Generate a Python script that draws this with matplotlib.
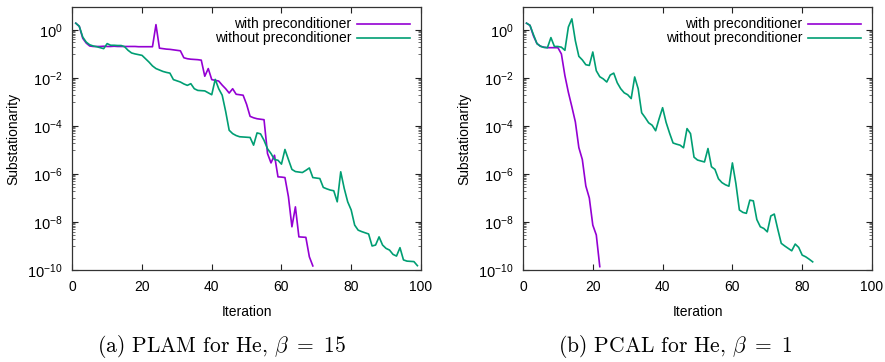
import numpy as np
import matplotlib
matplotlib.use("Agg")
import matplotlib.pyplot as plt
from matplotlib.ticker import FixedLocator, FixedFormatter

plt.rcParams['font.family'] = ['Liberation Sans', 'DejaVu Sans']
plt.rcParams['mathtext.fontset'] = 'custom'
plt.rcParams['mathtext.rm'] = 'Liberation Sans'
plt.rcParams['mathtext.it'] = 'Liberation Sans:italic'

# ---- data (log10 of substationarity) ----
plam_with_log = [0.28, 0.15, -0.35, -0.55, -0.67, -0.69, -0.69, -0.69, -0.68, -0.69,
                 -0.69, -0.68, -0.69, -0.69, -0.69, -0.69, -0.69, -0.69, -0.70, -0.70,
                 -0.70, -0.70, -0.70, 0.22, -0.76, -0.78, -0.80, -0.81, -0.83, -0.85,
                 -0.87, -1.16, -1.20, -1.22, -1.23, -1.24, -1.26, -1.93, -1.61, -2.07,
                 -2.10, -2.13, -2.30, -2.45, -2.63, -2.45, -2.68, -2.70, -2.72, -3.10,
                 -3.60, -3.66, -3.70, -3.72, -3.74, -5.15, -5.54, -5.22, -6.12, -6.13,
                 -6.15, -6.95, -8.20, -7.37, -8.62, -8.63, -8.64, -9.45, -9.83]
plam_without_log = [0.28, 0.15, -0.30, -0.51, -0.62, -0.67, -0.70, -0.74, -0.78, -0.57,
                    -0.64, -0.64, -0.65, -0.65, -0.70, -0.85, -0.96, -1.00, -1.03, -1.06,
                    -1.20, -1.34, -1.50, -1.61, -1.67, -1.73, -1.77, -1.80, -2.07, -2.12,
                    -2.17, -2.25, -2.31, -2.24, -2.45, -2.52, -2.53, -2.54, -2.62, -2.70,
                    -2.06, -2.45, -2.72, -3.40, -4.18, -4.32, -4.40, -4.45, -4.46, -4.47,
                    -4.48, -4.80, -4.29, -4.33, -4.60, -4.95, -5.15, -5.40, -5.43, -5.59,
                    -4.98, -5.40, -5.81, -5.90, -5.92, -5.94, -5.85, -5.75, -6.15, -6.17,
                    -6.19, -6.56, -6.62, -6.67, -6.70, -7.16, -5.91, -6.60, -7.16, -7.50,
                    -8.13, -8.34, -8.40, -8.45, -8.50, -9.00, -8.96, -8.62, -8.96, -9.10,
                    -9.17, -9.35, -9.42, -9.07, -9.58, -9.63, -9.64, -9.65, -9.82]
pcal_with_log = [0.28, 0.19, -0.25, -0.57, -0.68, -0.72, -0.74, -0.74, -0.74, -0.74,
                 -1.00, -1.90, -2.60, -3.20, -3.83, -4.90, -5.40, -6.50, -7.00, -8.13,
                 -8.54, -9.86]
pcal_without_log = [0.28, 0.19, -0.20, -0.57, -0.68, -0.73, -0.74, -0.32, -0.69, -0.69,
                    -0.72, -0.85, 0.12, 0.46, -0.45, -1.10, -1.25, -1.45, -1.48, -0.92,
                    -1.70, -1.95, -2.04, -2.17, -1.88, -1.80, -2.20, -2.45, -2.62, -2.70,
                    -2.86, -1.96, -2.45, -3.45, -3.65, -3.87, -3.97, -4.20, -3.70, -3.24,
                    -3.85, -4.30, -4.71, -4.76, -4.80, -4.91, -4.11, -4.32, -5.30, -5.42,
                    -5.46, -5.50, -4.94, -5.70, -5.81, -6.20, -6.36, -6.45, -6.51, -5.54,
                    -6.40, -7.50, -7.60, -7.64, -7.09, -7.12, -7.90, -8.20, -8.27, -8.41,
                    -7.75, -7.67, -8.30, -8.89, -9.00, -9.10, -9.20, -8.92, -9.06, -9.38,
                    -9.45, -9.55, -9.66]

series_labels = ["with preconditioner", "without preconditioner"]
series_colors = ["#9400D3", "#009E73"]
x_ticks = [0, 20, 40, 60, 80, 100]
y_major_exps = [0, -2, -4, -6, -8, -10]
captions = [r"(a) PLAM for He, $\beta\ =\ 15$",
            r"(b) PCAL for He, $\beta\ =\ 1$"]
xlabel = "Iteration"
ylabel = "Substationarity"

W, H = 885, 362
fig = plt.figure(figsize=(W / 100, H / 100), dpi=100)

axes_px = [(72.3, 7.0, 348.6, 263.0), (523.0, 7.0, 349.0, 263.0)]
panels = [(plam_with_log, plam_without_log), (pcal_with_log, pcal_without_log)]
caption_x = [222, 675]

for k, ((l, t, w, h), (s_with, s_without)) in enumerate(zip(axes_px, panels)):
    ax = fig.add_axes([l / W, 1 - (t + h) / H, w / W, h / H])
    for vals, lab, col in zip((s_with, s_without), series_labels, series_colors):
        it = np.arange(1, len(vals) + 1)
        ax.plot(it, 10.0 ** np.array(vals), color=col, lw=1.2, label=lab)
    ax.set_yscale('log')
    ax.set_xlim(0, 100)
    ax.set_ylim(1e-10, 9)
    ax.xaxis.set_major_locator(FixedLocator(x_ticks))
    ax.set_xticklabels([str(v) for v in x_ticks])
    ax.yaxis.set_major_locator(FixedLocator([10.0 ** e for e in y_major_exps]))
    ax.yaxis.set_major_formatter(FixedFormatter(
        [r"$\mathregular{10^{%d}}$" % e for e in y_major_exps]))
    minors = []
    for e in y_major_exps[:-1]:
        for m in range(1, 10):
            minors.append(m * 10.0 ** (e - 1))
    ax.yaxis.set_minor_locator(FixedLocator(minors))
    ax.yaxis.set_minor_formatter(FixedFormatter([""] * len(minors)))
    ax.tick_params(which='major', direction='in', length=4.3, width=0.8,
                   top=True, right=True, labelsize=10, pad=7, colors='#222222',
                   labelcolor='black')
    ax.tick_params(axis='y', which='major', labelsize=10.5)
    ax.tick_params(which='minor', direction='in', length=2.2, width=0.6,
                   left=True, right=True, colors='#555555')
    ax.tick_params(axis='x', which='minor', bottom=False, top=False)
    for sp in ax.spines.values():
        sp.set_color('#333333')
        sp.set_linewidth(0.9)
    ax.set_xlabel(xlabel, fontsize=10, labelpad=8)
    ax.set_ylabel(ylabel, fontsize=10, labelpad=5)

    # legend (gnuplot style: right-aligned text, sample line on the right)
    for j, (lab, col) in enumerate(zip(series_labels, series_colors)):
        yy = 0.935 - j * 0.054
        ax.text(0.80, yy, lab, transform=ax.transAxes, ha='right', va='center',
                fontsize=10)
        ax.plot([0.817, 0.968], [yy, yy], transform=ax.transAxes,
                color=col, lw=1.2)

    fig.text(caption_x[k] / W, 1 - 347 / H, captions[k], ha='center', va='center',
             fontsize=15.5, family='cmr10', math_fontfamily='cm')

fig.savefig("out.png", dpi=100)
